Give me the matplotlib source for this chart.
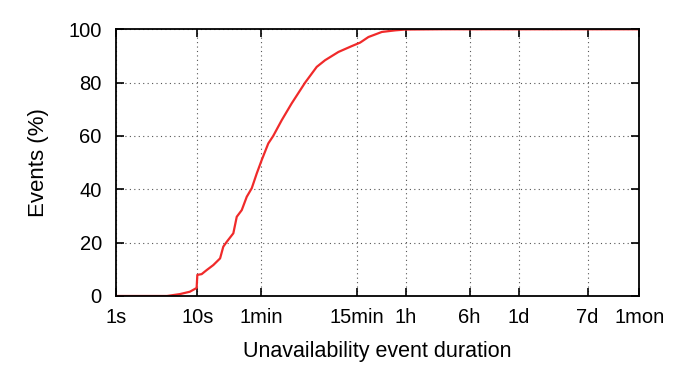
import matplotlib
matplotlib.use("Agg")
import matplotlib.pyplot as plt

plt.rcParams['font.family'] = ['Liberation Sans', 'DejaVu Sans']

# Data (duration in seconds, cumulative % of events)
durations = [1, 4.25, 6.1, 8.1, 9.8, 10.0, 11.3, 13.0, 15.7, 19.0, 20.8, 22.9, 27.6,
             30.4, 35.0, 40.3, 46.4, 53.5, 61.5, 74, 85, 108, 143, 209, 290, 367,
             535, 780, 986, 1247, 1820, 2650, 3510, 10000, 2592000]
percent = [0, 0, 0.7, 1.6, 3.0, 7.9, 8.2, 9.7, 11.6, 14.1, 18.5, 20.3, 23.5,
           29.7, 32.2, 37.2, 40.4, 46, 51, 57.2, 60, 65.9, 72.2, 80, 85.9, 88.4,
           91.5, 93.7, 95, 97.1, 99, 99.6, 99.9, 100, 100]

tick_values = [1, 10, 60, 900, 3600, 21600, 86400, 604800, 2592000]
tick_labels = ['1s', '10s', '1min', '15min', '1h', '6h', '1d', '7d', '1mon']
y_ticks = [0, 20, 40, 60, 80, 100]

fig = plt.figure(figsize=(6.79, 3.74), dpi=100)
ax = fig.add_axes([0.1704, 0.2086, 0.7711, 0.7131])

ax.plot(durations, percent, color='#f02a2a', lw=1.6)
ax.set_xscale('log')
ax.set_xlim(1, 2592000)
ax.set_ylim(0, 100)
ax.set_xticks(tick_values)
ax.set_xticklabels(tick_labels)
ax.xaxis.set_minor_locator(matplotlib.ticker.NullLocator())
ax.set_yticks(y_ticks)

ax.grid(True, which='major', linestyle=(0, (1, 3)), color='#555555', lw=0.8)
ax.tick_params(direction='in', length=6, width=1.2, top=True, right=True,
               labelsize=14.5, colors='black')
ax.tick_params(axis='y', pad=10)
ax.tick_params(axis='x', pad=9)
for s in ax.spines.values():
    s.set_linewidth(1.3)

ax.set_xlabel('Unavailability event duration', fontsize=15.5, labelpad=10)
ax.set_ylabel('Events (%)', fontsize=16, labelpad=14)

fig.savefig('out.png', dpi=100)
